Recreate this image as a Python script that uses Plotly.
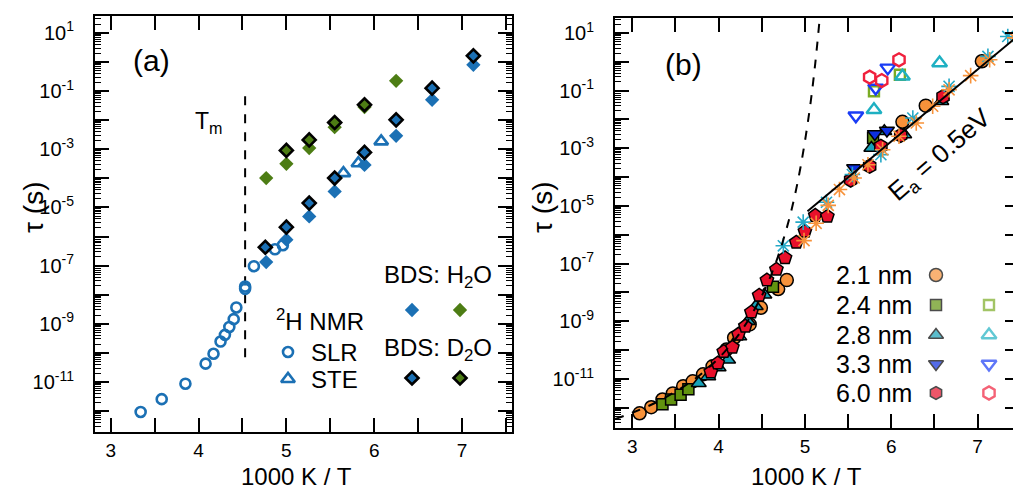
import plotly.graph_objects as go

# The page body adds an 8 px margin, so the figure is drawn 8 px smaller and every
# position below is given in window pixels and converted with px_x / px_y.
WIN_W, WIN_H = 1021, 490
OFF = 8
W, H = WIN_W - OFF, WIN_H - OFF
FONT = "Arial, Liberation Sans, sans-serif"

# ======================= Panel (a) data  (x = 1000 K / T, values = log10(tau / s)) =======================
slr_x = [3.34, 3.58, 3.85, 4.08, 4.17, 4.25, 4.30, 4.35, 4.40, 4.43, 4.53, 4.53, 4.63, 4.87, 4.96]
slr_log_tau = [-12.03, -11.59, -11.06, -10.37, -10.03, -9.61, -9.38, -9.11, -8.84, -8.44, -7.72, -7.80, -7.02, -6.44, -6.30]

ste_x = [5.65, 5.82, 6.08]
ste_log_tau = [-3.82, -3.48, -2.73]

bds_blue_h2o_x = [4.77, 5.00, 5.26, 5.55, 5.89, 6.25, 6.66, 7.13]
bds_blue_h2o_log_tau = [-6.88, -6.11, -5.31, -4.45, -3.54, -2.54, -1.30, -0.10]

bds_blue_d2o_x = [4.76, 5.00, 5.26, 5.55, 5.89, 6.25, 6.66, 7.13]
bds_blue_d2o_log_tau = [-6.37, -5.68, -4.85, -3.99, -3.11, -1.99, -0.90, 0.21]

bds_green_h2o_x = [4.77, 5.00, 5.26, 5.55, 5.89, 6.25]
bds_green_h2o_log_tau = [-3.99, -3.50, -2.96, -2.24, -1.55, -0.65]

bds_green_d2o_x = [5.00, 5.26, 5.55, 5.89]
bds_green_d2o_log_tau = [-3.04, -2.68, -2.08, -1.47]

tm_x = 4.53
tm_log_tau_span = [-10.15, -0.90]

# ======================= Panel (b) data =======================
d21_x = [3.085, 3.22, 3.35, 3.47, 3.59, 3.70, 3.82, 3.93, 4.09, 4.18, 4.36, 4.49, 4.69, 4.79, 6.13, 6.40, 7.05]
d21_log_tau = [-12.19, -11.98, -11.71, -11.50, -11.25, -11.08, -10.84, -10.56, -9.98, -9.57, -9.11, -8.53, -7.88, -7.57, -2.08, -1.52, 0.02]

d24_x = [3.35, 3.45, 3.56, 3.65, 4.63, 5.79]
d24_log_tau = [-11.88, -11.71, -11.55, -11.36, -7.80, -2.64]
d24_open_x = [5.80, 6.10]
d24_open_log_tau = [-1.02, -0.45]

d28_x = [3.77, 3.88, 4.00, 4.11, 4.24, 4.34, 4.43, 4.53, 5.77, 5.92, 6.15, 6.58]
d28_log_tau = [-11.15, -10.91, -10.60, -10.33, -9.53, -9.00, -8.48, -8.08, -2.99, -2.41, -2.52, -1.37]
d28_open_x = [5.80, 6.13, 6.56]
d28_open_log_tau = [-1.66, -0.50, -0.04]

d33_x = [5.57, 5.81, 5.95]
d33_log_tau = [-3.68, -2.50, -2.38]
d33_open_x = [5.59, 5.82, 5.96]
d33_open_log_tau = [-1.87, -0.91, -0.21]

d60_x = [3.91, 3.99, 4.06, 4.16, 4.23, 4.31, 4.38, 4.47, 4.56, 4.67, 4.77, 4.90, 5.00, 5.12, 5.26,
         5.53, 5.75, 5.88, 6.11, 6.60]
d60_log_tau = [-10.76, -10.45, -10.05, -9.90, -9.45, -9.17, -8.68, -8.10, -7.57, -7.20, -6.80, -6.26, -5.88, -5.33, -5.36,
               -4.10, -3.62, -2.93, -2.55, -1.21]
d60_open_x = [5.75, 5.89, 6.09]
d60_open_log_tau = [-0.53, -0.65, 0.07]

bulk_orange_x = [4.99, 5.13, 5.27, 5.40, 5.57, 5.73, 5.90, 6.09, 6.29, 6.48, 6.67, 6.92, 7.14, 7.43]
bulk_orange_log_tau = [-6.20, -5.60, -4.98, -4.43, -4.03, -3.57, -3.05, -2.58, -2.12, -1.54, -0.97, -0.48, 0.07, 0.83]
bulk_cyan_x = [4.75, 4.98, 5.25, 5.55, 5.88, 6.25, 6.67, 7.12, 7.35]
bulk_cyan_log_tau = [-6.38, -5.56, -4.87, -3.91, -3.22, -1.95, -0.85, 0.19, 0.88]

# dashed guide (VFT-like) and Arrhenius line with Ea = 0.5 eV
vft_x = [2.80, 3.00, 3.25, 3.50, 3.75, 4.00, 4.25, 4.50, 4.65, 4.75, 4.85, 4.95, 5.05, 5.12, 5.18]
vft_log_tau = [-12.39, -12.17, -11.85, -11.44, -10.94, -10.28, -9.39, -8.12, -7.07, -6.17, -5.07, -3.64, -1.76, -0.05, 1.79]
ea_x = [5.03, 7.48]
ea_log_tau = [-5.18, 0.93]

legend_b_labels = ["2.1 nm", "2.4 nm", "2.8 nm", "3.3 nm", "6.0 nm"]

# ======================= colours =======================
BLUE_A = "#1b70b4"
GREEN_A = "#4d7d14"
ORANGE = "#f7923a"
GREEN_B = "#62930f"
GREEN_B_OPEN = "#7aab24"
TEAL = "#17a2b8"
TEAL_OPEN = "#1eb0c2"
BLUE_B = "#0d2fe0"
BLUE_B_OPEN = "#1a3cf5"
RED = "#e8102b"
RED_OPEN = "#f0203c"
CYAN = "#25a8c6"


def tau(vals):
    return [10 ** v for v in vals]


fig = go.Figure()

# ---------------- panel (a) traces ----------------
fig.add_trace(go.Scatter(x=[tm_x, tm_x], y=tau(tm_log_tau_span), mode="lines",
                         line=dict(color="black", width=2, dash="dash"), xaxis="x", yaxis="y"))
fig.add_trace(go.Scatter(x=slr_x, y=tau(slr_log_tau), mode="markers",
                         marker=dict(symbol="circle-open", size=10, color=BLUE_A, line=dict(width=2.6, color=BLUE_A)),
                         xaxis="x", yaxis="y"))
fig.add_trace(go.Scatter(x=ste_x, y=tau(ste_log_tau), mode="markers",
                         marker=dict(symbol="triangle-up-open", size=12, color=BLUE_A, line=dict(width=2.6, color=BLUE_A)),
                         xaxis="x", yaxis="y"))
fig.add_trace(go.Scatter(x=bds_green_h2o_x, y=tau(bds_green_h2o_log_tau), mode="markers",
                         marker=dict(symbol="diamond", size=11, color=GREEN_A, line=dict(width=0)),
                         xaxis="x", yaxis="y"))
fig.add_trace(go.Scatter(x=bds_blue_h2o_x, y=tau(bds_blue_h2o_log_tau), mode="markers",
                         marker=dict(symbol="diamond", size=11, color=BLUE_A, line=dict(width=0)),
                         xaxis="x", yaxis="y"))
fig.add_trace(go.Scatter(x=bds_green_d2o_x, y=tau(bds_green_d2o_log_tau), mode="markers",
                         marker=dict(symbol="diamond", size=10, color=GREEN_A, line=dict(width=2.6, color="black")),
                         xaxis="x", yaxis="y"))
fig.add_trace(go.Scatter(x=bds_blue_d2o_x, y=tau(bds_blue_d2o_log_tau), mode="markers",
                         marker=dict(symbol="diamond", size=10, color=BLUE_A, line=dict(width=2.6, color="black")),
                         xaxis="x", yaxis="y"))

# ---------------- panel (b) traces ----------------
def filled(xs, ys, symbol, size, color):
    return go.Scatter(x=xs, y=tau(ys), mode="markers",
                      marker=dict(symbol=symbol, size=size, color=color, line=dict(width=1.5, color="black")),
                      xaxis="x2", yaxis="y2")


def opened(xs, ys, symbol, size, color):
    return go.Scatter(x=xs, y=tau(ys), mode="markers",
                      marker=dict(symbol=symbol + "-open", size=size, color=color, line=dict(width=2.4, color=color)),
                      xaxis="x2", yaxis="y2")


fig.add_trace(filled(d21_x, d21_log_tau, "circle", 13, ORANGE))
fig.add_trace(filled(d24_x, d24_log_tau, "square", 11, GREEN_B))
fig.add_trace(filled(d28_x, d28_log_tau, "triangle-up", 13, TEAL))
fig.add_trace(filled(d33_x, d33_log_tau, "triangle-down", 13, BLUE_B))
fig.add_trace(go.Scatter(x=d60_x, y=tau(d60_log_tau), mode="markers",
                         marker=dict(symbol=["pentagon" if v < 5.4 else "hexagon" for v in d60_x], size=14,
                                     color=RED, line=dict(width=1.5, color="black")),
                         xaxis="x2", yaxis="y2"))
fig.add_trace(go.Scatter(x=bulk_cyan_x, y=tau(bulk_cyan_log_tau), mode="markers",
                         marker=dict(symbol="asterisk-open", size=13, color=CYAN, line=dict(width=1.6, color=CYAN)),
                         xaxis="x2", yaxis="y2"))
fig.add_trace(go.Scatter(x=bulk_orange_x, y=tau(bulk_orange_log_tau), mode="markers",
                         marker=dict(symbol="asterisk-open", size=13, color=ORANGE, line=dict(width=1.6, color=ORANGE)),
                         xaxis="x2", yaxis="y2"))
fig.add_trace(opened(d24_open_x, d24_open_log_tau, "square", 10, GREEN_B_OPEN))
fig.add_trace(opened(d28_open_x, d28_open_log_tau, "triangle-up", 13, TEAL_OPEN))
fig.add_trace(opened(d33_open_x, d33_open_log_tau, "triangle-down", 13, BLUE_B_OPEN))
fig.add_trace(opened(d60_open_x, d60_open_log_tau, "hexagon", 13, RED_OPEN))
fig.add_trace(go.Scatter(x=vft_x, y=tau(vft_log_tau), mode="lines", line_shape="spline",
                         line=dict(color="black", width=2, dash="dash"), xaxis="x2", yaxis="y2"))
fig.add_trace(go.Scatter(x=ea_x, y=tau(ea_log_tau), mode="lines",
                         line=dict(color="black", width=2), xaxis="x2", yaxis="y2"))

# ---------------- legend markers (window-pixel overlay axes) ----------------
fig.add_trace(go.Scatter(x=[288], y=[352], mode="markers", xaxis="x3", yaxis="y3",
                         marker=dict(symbol="circle-open", size=10, color=BLUE_A, line=dict(width=2.6, color=BLUE_A))))
fig.add_trace(go.Scatter(x=[288], y=[379], mode="markers", xaxis="x3", yaxis="y3",
                         marker=dict(symbol="triangle-up-open", size=12, color=BLUE_A, line=dict(width=2.6, color=BLUE_A))))
fig.add_trace(go.Scatter(x=[412, 460], y=[310, 310], mode="markers", xaxis="x3", yaxis="y3",
                         marker=dict(symbol="diamond", size=11, color=[BLUE_A, GREEN_A], line=dict(width=0))))
fig.add_trace(go.Scatter(x=[412, 460], y=[378, 378], mode="markers", xaxis="x3", yaxis="y3",
                         marker=dict(symbol="diamond", size=10, color=[BLUE_A, GREEN_A], line=dict(width=2.6, color="black"))))
rows_y = [275, 305, 335, 364, 393]
fill_syms = ["circle", "square", "triangle-up", "triangle-down", "hexagon"]
fill_cols = [ORANGE, GREEN_B, TEAL, BLUE_B, RED]
fill_sizes = [13, 11, 13, 13, 13]
fig.add_trace(go.Scatter(x=[936] * 5, y=rows_y, mode="markers", xaxis="x3", yaxis="y3",
                         marker=dict(symbol=fill_syms, size=fill_sizes, color=fill_cols,
                                     line=dict(width=1.5, color="black"))))
open_cols = [GREEN_B_OPEN, TEAL_OPEN, BLUE_B_OPEN, RED_OPEN]
fig.add_trace(go.Scatter(x=[989] * 4, y=rows_y[1:], mode="markers", xaxis="x3", yaxis="y3",
                         marker=dict(symbol=[s + "-open" for s in fill_syms[1:]], size=[10, 13, 13, 13],
                                     color=open_cols, line=dict(width=2.4, color=open_cols))))

# ---------------- axes ----------------
labelled_decades = [n for n in range(-13, 2) if n % 2]
label_vals = [10.0 ** n for n in labelled_decades]
label_text = [f"10<sup>{n}</sup>" for n in labelled_decades]
even_vals = [10.0 ** n for n in range(-13, 2) if not n % 2]
minor_vals = [k * 10.0 ** n for n in range(-13, 2) for k in range(2, 10)]


def xax(domain, rng, anchor):
    return dict(domain=domain, range=rng, anchor=anchor, tickmode="linear", tick0=0, dtick=1,
                ticks="inside", ticklen=14, tickwidth=2, tickcolor="black",
                minor=dict(dtick=0.5, tick0=0, ticks="inside", ticklen=8, tickwidth=2, tickcolor="black"),
                showline=True, linewidth=2, linecolor="black", mirror="allticks",
                showgrid=False, zeroline=False, ticklabelstandoff=0,
                tickfont=dict(family=FONT, size=19, color="black"))


def yax(domain, rng, anchor):
    return dict(domain=domain, range=rng, anchor=anchor, type="log", tickmode="array",
                tickvals=label_vals, ticktext=label_text,
                ticks="inside", ticklen=14, tickwidth=2, tickcolor="black",
                showline=True, linewidth=2, linecolor="black", mirror="allticks",
                showgrid=False, zeroline=False, ticklabelstandoff=15,
                tickfont=dict(family=FONT, size=20, color="black"))


def yover(over, rng, anchor, vals, ticklen, width):
    return dict(overlaying=over, range=rng, anchor=anchor, type="log", tickmode="array", tickvals=vals,
                showticklabels=False, ticks="inside", ticklen=ticklen, tickwidth=width, tickcolor="black",
                showline=True, linewidth=2, linecolor="black", mirror="allticks",
                showgrid=False, zeroline=False)


def px_x(v):
    return (v - OFF) / W


def px_y(v):
    return 1 - (v - OFF) / H


rng_a_x, rng_a_y = [2.82, 7.57], [-12.72, 1.58]
rng_b_x, rng_b_y = [2.80, 7.48], [-12.70, 1.52]

fig.update_layout(
    width=W, height=H, margin=dict(l=0, r=0, t=0, b=0),
    paper_bgcolor="white", plot_bgcolor="rgba(0,0,0,0)", showlegend=False,
    font=dict(family=FONT, color="black"),
    xaxis=xax([px_x(95), px_x(512)], rng_a_x, "y"),
    yaxis=yax([px_y(432), px_y(16)], rng_a_y, "x"),
    xaxis2=xax([px_x(615), px_x(1019)], rng_b_x, "y2"),
    yaxis2=yax([px_y(428), px_y(18)], rng_b_y, "x2"),
    xaxis3=dict(domain=[0, 1], range=[OFF, WIN_W], anchor="y3", visible=False, fixedrange=True),
    yaxis3=dict(domain=[0, 1], range=[WIN_H, OFF], anchor="x3", visible=False, fixedrange=True),
    yaxis4=yover("y", rng_a_y, "x", even_vals, 14, 2),
    yaxis5=yover("y", rng_a_y, "x", minor_vals, 6, 1.3),
    yaxis6=yover("y2", rng_b_y, "x2", even_vals, 14, 2),
    yaxis7=yover("y2", rng_b_y, "x2", minor_vals, 6, 1.3),
)

# invisible traces so the overlay tick axes are drawn
for ya, xa in [("y4", "x"), ("y5", "x"), ("y6", "x2"), ("y7", "x2")]:
    fig.add_trace(go.Scatter(x=[None], y=[None], xaxis=xa, yaxis=ya, mode="markers", hoverinfo="skip"))


def ann(text, x, y, size, xanchor="center", yanchor="middle", angle=0):
    fig.add_annotation(text=text, x=px_x(x), y=px_y(y), xref="paper", yref="paper",
                       xanchor=xanchor, yanchor=yanchor, showarrow=False, textangle=angle,
                       font=dict(family=FONT, size=size, color="black"))


# axis titles
ann("1000 K / T", 296, 476, 24)
ann("1000 K / T", 806, 476, 24)
ann("τ (s)", 33, 207, 28, angle=-90)
ann("τ (s)", 542, 207, 28, angle=-90)
# panel labels
ann("(a)", 151, 60, 30)
ann("(b)", 683, 64, 30)
ann("T<sub>m</sub>", 193, 122, 23, xanchor="left")
# panel (a) legend text
ann("<sup>2</sup>H NMR", 274, 320, 24, xanchor="left")
ann("SLR", 309, 352, 24, xanchor="left")
ann("STE", 309, 379, 24, xanchor="left")
ann("BDS: H<sub>2</sub>O", 382, 276, 24, xanchor="left")
ann("BDS: D<sub>2</sub>O", 382, 349, 24, xanchor="left")
# panel (b) legend text
for lab, yy in zip(legend_b_labels, rows_y):
    ann(lab, 834, yy, 25, xanchor="left")
ann("E<sub>a</sub> = 0.5eV", 940, 155, 26, angle=-41)

fig.write_html("out.html")
